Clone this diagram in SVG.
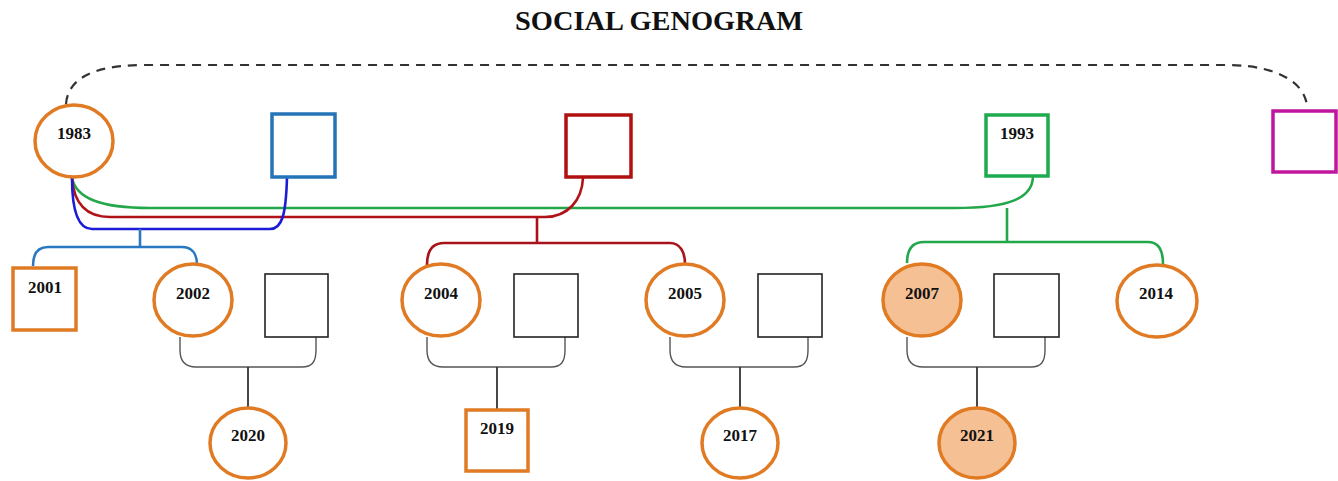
<svg xmlns="http://www.w3.org/2000/svg" width="1338" height="481" viewBox="0 0 1338 481">
<style>
.title{font-family:"Liberation Serif","Times New Roman",serif;font-weight:bold;font-size:27px;fill:#111}
.yr{font-family:"Liberation Serif","Times New Roman",serif;font-weight:bold;font-size:17px;fill:#111;text-anchor:middle}
.fem{fill:#fff;stroke:#e07b24;stroke-width:3.5}
.fill{fill:#f6c095}
.male{fill:#fff;stroke:#e07b24;stroke-width:3.5}
.plain{fill:#fff;stroke:#222;stroke-width:1.6}
.c{fill:none}
.kid{fill:none;stroke:#333;stroke-width:1.8}
.mar{fill:none;stroke:#555;stroke-width:1.4}
</style>
<rect width="1338" height="481" fill="#fff"/>
<text class="title" x="515" y="30" textLength="288" lengthAdjust="spacingAndGlyphs">SOCIAL GENOGRAM</text>

<g id="connectors">
  <path class="c" d="M66,104 C68,80 90,66 140,65 L1230,65 C1280,66 1305,84 1307,106" stroke="#333" stroke-width="2.2" stroke-dasharray="9,7"/>
  <path class="c" d="M72,178 C76,198 100,208 150,208 L955,208 C1010,208 1032,198 1033,177" stroke="#22a84a" stroke-width="2.6"/>
  <path class="c" d="M72,178 C74,205 88,217 110,217 L545,217 C568,217 582,200 583,178" stroke="#b01218" stroke-width="2.6"/>
  <path class="c" d="M72,178 C72,215 80,229 92,229 L270,229 C282,229 286,215 287,177" stroke="#1c1cd6" stroke-width="2.6"/>
  <path class="c" d="M140,229 L140,246" stroke="#2a78c2" stroke-width="2.6"/>
  <path class="c" d="M33,266 C33,254 38,247 48,247 L182,247 C192,247 197,254 197,265" stroke="#2a78c2" stroke-width="2.6"/>
  <path class="c" d="M537,217 L537,243" stroke="#a8121a" stroke-width="2.6"/>
  <path class="c" d="M427,265 C427,252 432,243 444,243 L670,243 C680,243 685,252 685,264" stroke="#a8121a" stroke-width="2.6"/>
  <path class="c" d="M1007,208 L1007,242" stroke="#22a84a" stroke-width="2.6"/>
  <path class="c" d="M907,263 C907,250 912,242 924,242 L1148,242 C1158,242 1163,250 1163,264" stroke="#22a84a" stroke-width="2.6"/>
  <path class="mar" d="M180,337 L180,350 C180,362 186,367 196,367 L302,367 C312,367 316,362 316,350 L316,337"/>
  <path class="kid" d="M248,367 L248,407"/>
  <path class="mar" d="M427,337 L427,350 C427,362 433,367 443,367 L551,367 C561,367 565,362 565,350 L565,337"/>
  <path class="kid" d="M497,367 L497,409"/>
  <path class="mar" d="M670,337 L670,350 C670,362 676,367 686,367 L794,367 C804,367 808,362 808,350 L808,337"/>
  <path class="kid" d="M740,367 L740,407"/>
  <path class="mar" d="M907,337 L907,350 C907,362 913,367 923,367 L1031,367 C1041,367 1045,362 1045,350 L1045,337"/>
  <path class="kid" d="M977,367 L977,407"/>
</g>

<g id="n1983"><ellipse class="fem" cx="74" cy="141" rx="39" ry="36"/><text class="yr" x="74" y="139">1983</text></g>
<g id="nBlue"><rect x="272" y="114" width="63" height="63" fill="#fff" stroke="#2574b8" stroke-width="3.5"/></g>
<g id="nRed"><rect x="566" y="115" width="65" height="62" fill="#fff" stroke="#b01010" stroke-width="3.5"/></g>
<g id="n1993"><rect x="986" y="115" width="62" height="61" fill="#fff" stroke="#1faa50" stroke-width="3.5"/><text class="yr" x="1017" y="139">1993</text></g>
<g id="nMagenta"><rect x="1273" y="111" width="63" height="61" fill="#fff" stroke="#c0169e" stroke-width="3.5"/></g>

<g id="n2001"><rect class="male" x="13" y="268" width="63" height="62"/><text class="yr" x="45" y="293">2001</text></g>
<g id="n2002"><ellipse class="fem" cx="193" cy="300" rx="39" ry="36"/><text class="yr" x="193" y="299">2002</text></g>
<g id="s2002"><rect class="plain" x="265" y="274" width="63" height="63"/></g>
<g id="n2004"><ellipse class="fem" cx="441" cy="300" rx="39" ry="36"/><text class="yr" x="441" y="299">2004</text></g>
<g id="s2004"><rect class="plain" x="514" y="274" width="64" height="63"/></g>
<g id="n2005"><ellipse class="fem" cx="685" cy="300" rx="39" ry="36"/><text class="yr" x="685" y="299">2005</text></g>
<g id="s2005"><rect class="plain" x="758" y="274" width="64" height="63"/></g>
<g id="n2007"><ellipse class="fem fill" cx="922" cy="300" rx="39" ry="36"/><text class="yr" x="922" y="299">2007</text></g>
<g id="s2007"><rect class="plain" x="994" y="274" width="65" height="63"/></g>
<g id="n2014"><ellipse class="fem" cx="1157" cy="301" rx="40" ry="36"/><text class="yr" x="1156" y="299">2014</text></g>

<g id="n2020"><ellipse class="fem" cx="248" cy="443" rx="38" ry="35"/><text class="yr" x="248" y="441">2020</text></g>
<g id="n2019"><rect class="male" x="466" y="410" width="62" height="61"/><text class="yr" x="497" y="434">2019</text></g>
<g id="n2017"><ellipse class="fem" cx="740" cy="443" rx="38" ry="35"/><text class="yr" x="740" y="441">2017</text></g>
<g id="n2021"><ellipse class="fem fill" cx="977" cy="443" rx="38" ry="35"/><text class="yr" x="977" y="441">2021</text></g>
</svg>
